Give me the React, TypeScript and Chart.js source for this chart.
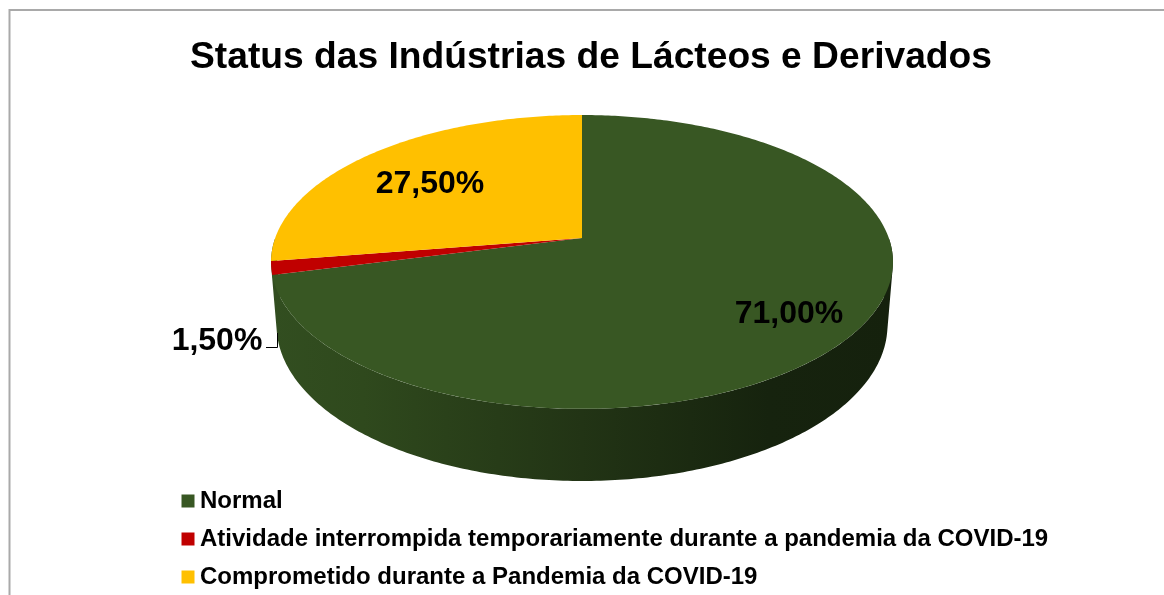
import React, { useEffect, useRef } from "react";
import { Chart, registerables } from "chart.js";

Chart.register(...registerables);

const TITLE = "Status das Indústrias de Lácteos e Derivados";
const categories = [
  "Normal",
  "Atividade interrompida temporariamente durante a pandemia da COVID-19",
  "Comprometido durante a Pandemia da COVID-19",
];
const values = [71, 1.5, 27.5];
const colors = ["#385723", "#C00000", "#FFC000"];
const FONT = "'Liberation Sans', Arial, sans-serif";

// Projection of the pie's unit disc on the page (perspective tilt)
const CX = 582;
const K = -0.163;
const TOP_FACE = { a: 306.8, c: 238, d: 104.2 };
const BASE_FACE = { a: 301.4, c: 299.6, d: 103 };
const LABEL_SPOTS = [
  { x: 789, y: 314 },
  { x: 217, y: 341 },
  { x: 430, y: 184 },
];

type Face = { a: number; c: number; d: number };
const project = (f: Face, ang: number) => {
  const u = Math.cos(ang);
  const v = Math.sin(ang);
  const w = 1 + K * v;
  return { x: CX + (f.a * u) / w, y: (f.c + f.d * v) / w };
};

const shade = (hex: string, f: number) => {
  const n = parseInt(hex.slice(1), 16);
  const r = Math.round(((n >> 16) & 255) * f);
  const g = Math.round(((n >> 8) & 255) * f);
  const b = Math.round((n & 255) * f);
  return `rgb(${r},${g},${b})`;
};

const pie3d = {
  id: "pie3d",
  beforeDraw(chart: any) {
    const { ctx } = chart;
    ctx.save();
    ctx.strokeStyle = "#a9a9a9";
    ctx.lineWidth = 2;
    ctx.beginPath();
    ctx.moveTo(9.5, 700);
    ctx.lineTo(9.5, 10);
    ctx.lineTo(1300, 10);
    ctx.stroke();
    ctx.restore();
  },
  afterLayout(chart: any) {
    const lg = chart.legend;
    lg.left = 174;
    lg.right = 1160;
    lg.top = 475;
    lg.bottom = 900;
  },
  beforeDatasetsDraw(chart: any) {
    const { ctx } = chart;
    const arcs = chart.getDatasetMeta(0).data;
    ctx.save();

    // side wall: the visible front half, in the colour of the front slice
    const steps = 240;
    ctx.beginPath();
    for (let i = 0; i < steps; i++) {
      const a0 = (Math.PI * i) / steps;
      const a1 = (Math.PI * (i + 1)) / steps;
      let q = [project(TOP_FACE, a0), project(TOP_FACE, a1), project(BASE_FACE, a1), project(BASE_FACE, a0)];
      let area = 0;
      q.forEach((p, j) => {
        const n = q[(j + 1) % 4];
        area += p.x * n.y - n.x * p.y;
      });
      if (area < 0) q = q.reverse();
      ctx.moveTo(q[0].x, q[0].y);
      q.slice(1).forEach((p) => ctx.lineTo(p.x, p.y));
      ctx.closePath();
    }
    const g = ctx.createLinearGradient(270, 0, 893, 0);
    g.addColorStop(0, shade(colors[0], 0.9));
    g.addColorStop(0.15, shade(colors[0], 0.84));
    g.addColorStop(0.5, shade(colors[0], 0.6));
    g.addColorStop(0.8, shade(colors[0], 0.4));
    g.addColorStop(1, shade(colors[0], 0.38));
    ctx.fillStyle = g;
    ctx.fill();

    // top face
    arcs.forEach((arc: any, i: number) => {
      const { startAngle, endAngle } = arc.getProps(["startAngle", "endAngle"], true);
      const n = Math.max(4, Math.ceil((endAngle - startAngle) * 80));
      ctx.beginPath();
      ctx.moveTo(CX, TOP_FACE.c);
      for (let s = 0; s <= n; s++) {
        const p = project(TOP_FACE, startAngle + ((endAngle - startAngle) * s) / n);
        ctx.lineTo(p.x, p.y);
      }
      ctx.closePath();
      ctx.fillStyle = colors[i];
      ctx.fill();
    });
    ctx.restore();
    return false;
  },
  afterDraw(chart: any) {
    const { ctx } = chart;
    ctx.save();
    // leader line of the small slice
    ctx.strokeStyle = "#000";
    ctx.lineWidth = 1;
    ctx.beginPath();
    ctx.moveTo(266, 347.5);
    ctx.lineTo(277.5, 347.5);
    ctx.lineTo(277.5, 333);
    ctx.stroke();
    // data labels
    ctx.fillStyle = "#000";
    ctx.font = `bold 32px ${FONT}`;
    ctx.textAlign = "center";
    ctx.textBaseline = "middle";
    values.forEach((v, i) => {
      ctx.fillText(v.toFixed(2).replace(".", ",") + "%", LABEL_SPOTS[i].x, LABEL_SPOTS[i].y);
    });
    ctx.restore();
  },
};

export default function App() {
  const ref = useRef<HTMLCanvasElement>(null);
  useEffect(() => {
    const chart = new Chart(ref.current!, {
      type: "pie",
      data: {
        labels: categories,
        datasets: [{ data: values, backgroundColor: colors, borderWidth: 0 }],
      },
      options: {
        animation: false,
        responsive: false,
        layout: { padding: { left: 18 } },
        plugins: {
          title: {
            display: true,
            text: TITLE,
            color: "#000",
            font: { family: FONT, size: 37.2, weight: "bold" },
            padding: { top: 35, bottom: 10 },
          },
          legend: {
            display: true,
            position: "left",
            align: "start",
            labels: {
              color: "#000",
              font: { family: FONT, size: 24, weight: "bold" },
              usePointStyle: true,
              pointStyle: "rect",
              boxWidth: 0.01,
              boxHeight: 13,
              padding: 14,
            },
          },
          tooltip: { enabled: false },
        },
      },
      plugins: [pie3d],
    } as any);
    return () => chart.destroy();
  }, []);
  return (
    <div style={{ position: "fixed", left: 0, top: 0, width: 1164, height: 595, overflow: "hidden", background: "#fff" }}>
      <canvas ref={ref} width={1164} height={595} style={{ display: "block" }} />
    </div>
  );
}
